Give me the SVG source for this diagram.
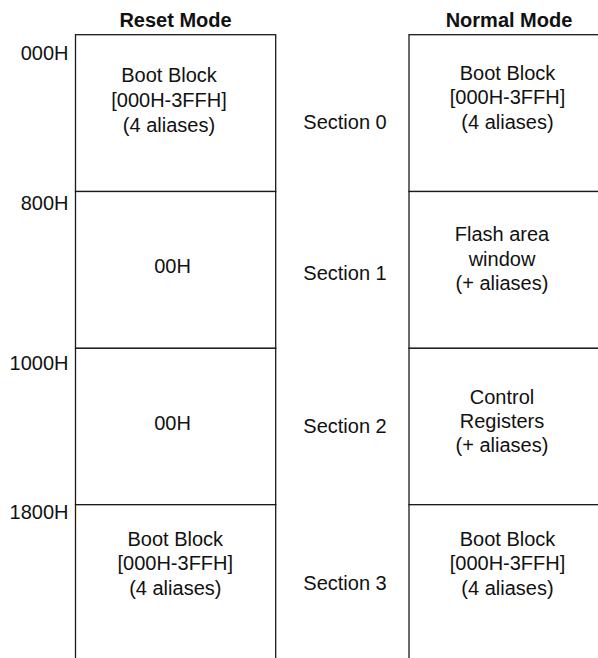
<svg xmlns="http://www.w3.org/2000/svg" width="598" height="658" viewBox="0 0 598 658">
<style>
  .cell { fill: #ffffff; stroke: #1a1a1a; stroke-width: 1.3; }
  text { font-family: "Liberation Sans", Arial, sans-serif; font-size: 20px; fill: #111; }
  .mid { text-anchor: middle; }
  .addr { text-anchor: end; }
  .head { font-weight: bold; text-anchor: middle; }
</style>
<rect width="598" height="658" fill="#ffffff"/>
<g id="headings">
  <text class="head" x="175.5" y="26.5">Reset Mode</text>
  <text class="head" x="509" y="26.5">Normal Mode</text>
</g>
<g id="addresses">
  <text class="addr" x="68.5" y="59.5">000H</text>
  <text class="addr" x="68.5" y="210">800H</text>
  <text class="addr" x="68.5" y="369.5">1000H</text>
  <text class="addr" x="68.5" y="518.5">1800H</text>
</g>
<g id="sections">
  <text class="mid" x="345" y="128.5">Section 0</text>
  <text class="mid" x="345" y="279.5">Section 1</text>
  <text class="mid" x="345" y="432.5">Section 2</text>
  <text class="mid" x="345" y="590">Section 3</text>
</g>
<g id="reset-0">
  <rect class="cell" x="75.5" y="34.7" width="200.2" height="156.8"/>
  <text class="mid" x="169" y="82.3">Boot Block</text>
  <text class="mid" x="169" y="107">[000H-3FFH]</text>
  <text class="mid" x="169" y="131.5">(4 aliases)</text>
</g>
<g id="reset-1">
  <rect class="cell" x="75.5" y="191.5" width="200.2" height="156.8"/>
  <text class="mid" x="172.5" y="272.7">00H</text>
</g>
<g id="reset-2">
  <rect class="cell" x="75.5" y="348.3" width="200.2" height="156.4"/>
  <text class="mid" x="172.5" y="429.5">00H</text>
</g>
<g id="reset-3">
  <rect class="cell" x="75.5" y="504.7" width="200.2" height="200"/>
  <text class="mid" x="175.3" y="545.7">Boot Block</text>
  <text class="mid" x="175.3" y="570.3">[000H-3FFH]</text>
  <text class="mid" x="175.3" y="595">(4 aliases)</text>
</g>
<g id="normal-0">
  <rect class="cell" x="409" y="34.7" width="250" height="156.8"/>
  <text class="mid" x="507.5" y="79.5">Boot Block</text>
  <text class="mid" x="507.5" y="104">[000H-3FFH]</text>
  <text class="mid" x="507.5" y="128.5">(4 aliases)</text>
</g>
<g id="normal-1">
  <rect class="cell" x="409" y="191.5" width="250" height="156.8"/>
  <text class="mid" x="502" y="241">Flash area</text>
  <text class="mid" x="502" y="265.5">window</text>
  <text class="mid" x="502" y="290">(+ aliases)</text>
</g>
<g id="normal-2">
  <rect class="cell" x="409" y="348.3" width="250" height="156.4"/>
  <text class="mid" x="502" y="404">Control</text>
  <text class="mid" x="502" y="428">Registers</text>
  <text class="mid" x="502" y="452">(+ aliases)</text>
</g>
<g id="normal-3">
  <rect class="cell" x="409" y="504.7" width="250" height="200"/>
  <text class="mid" x="507.5" y="545.7">Boot Block</text>
  <text class="mid" x="507.5" y="570.3">[000H-3FFH]</text>
  <text class="mid" x="507.5" y="595">(4 aliases)</text>
</g>
<g id="connectors"></g>
</svg>
